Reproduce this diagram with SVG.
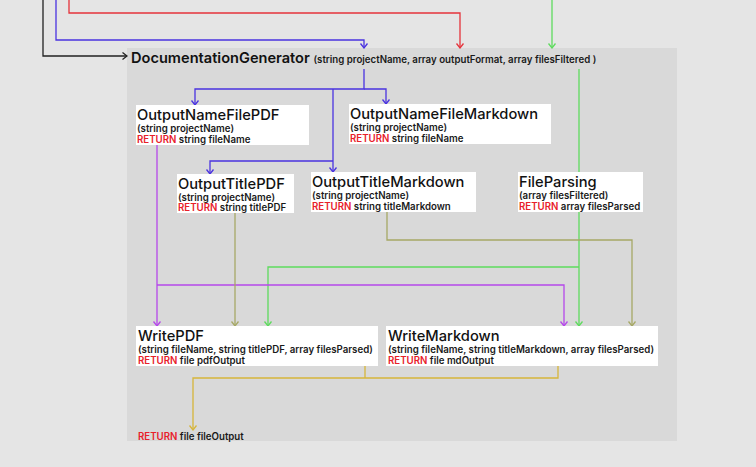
<svg xmlns="http://www.w3.org/2000/svg" width="756" height="467" viewBox="0 0 756 467">
<style>
.t{font-family:Inter,"Noto Sans","Liberation Sans",sans-serif;font-size:14.7px;font-weight:500;fill:#111}
.s{font-family:Inter,"Noto Sans","Liberation Sans",sans-serif;font-size:9.7px;font-weight:600;fill:#1a1a1a}
.r{fill:#e8202a}
.box{fill:#ffffff}
.c{fill:none;stroke-width:1.3}
.k{stroke:#222}
.b{stroke:#4a33e0}
.rd{stroke:#e5333b}
.g{stroke:#5edb5e}
.p{stroke:#b548ea}
.o{stroke:#a6a866}
.y{stroke:#d6b53a}
</style>
<defs>
<marker id="mk" viewBox="0 0 6 8" refX="5.5" refY="4" markerWidth="6" markerHeight="8" markerUnits="userSpaceOnUse" orient="auto"><path d="M1,0.5 L5.5,4 L1,7.5" fill="none" stroke="#222" stroke-width="1.3"/></marker>
<marker id="mb" viewBox="0 0 6 8" refX="5.5" refY="4" markerWidth="6" markerHeight="8" markerUnits="userSpaceOnUse" orient="auto"><path d="M1,0.5 L5.5,4 L1,7.5" fill="none" stroke="#4a33e0" stroke-width="1.3"/></marker>
<marker id="mr" viewBox="0 0 6 8" refX="5.5" refY="4" markerWidth="6" markerHeight="8" markerUnits="userSpaceOnUse" orient="auto"><path d="M1,0.5 L5.5,4 L1,7.5" fill="none" stroke="#e5333b" stroke-width="1.3"/></marker>
<marker id="mg" viewBox="0 0 6 8" refX="5.5" refY="4" markerWidth="6" markerHeight="8" markerUnits="userSpaceOnUse" orient="auto"><path d="M1,0.5 L5.5,4 L1,7.5" fill="none" stroke="#5edb5e" stroke-width="1.3"/></marker>
<marker id="mp" viewBox="0 0 6 8" refX="5.5" refY="4" markerWidth="6" markerHeight="8" markerUnits="userSpaceOnUse" orient="auto"><path d="M1,0.5 L5.5,4 L1,7.5" fill="none" stroke="#b548ea" stroke-width="1.3"/></marker>
<marker id="mo" viewBox="0 0 6 8" refX="5.5" refY="4" markerWidth="6" markerHeight="8" markerUnits="userSpaceOnUse" orient="auto"><path d="M1,0.5 L5.5,4 L1,7.5" fill="none" stroke="#a6a866" stroke-width="1.3"/></marker>
<marker id="my" viewBox="0 0 6 8" refX="5.5" refY="4" markerWidth="6" markerHeight="8" markerUnits="userSpaceOnUse" orient="auto"><path d="M1,0.5 L5.5,4 L1,7.5" fill="none" stroke="#d6b53a" stroke-width="1.3"/></marker>
</defs>
<rect width="756" height="467" fill="#e5e5e5"/>
<rect id="panel" x="127" y="48" width="550" height="393" fill="#d9d9d9"/>

<g id="connectors">
<path class="c k" d="M43,0 V56 H127" marker-end="url(#mk)"/>
<path class="c b" d="M56,0 V40 H364 V48" marker-end="url(#mb)"/>
<path class="c rd" d="M69,0 V13 H460 V48" marker-end="url(#mr)"/>
<path class="c g" d="M552,0 V48" marker-end="url(#mg)"/>
<path class="c b" d="M364,69 V89 H195 V105" marker-end="url(#mb)"/>
<path class="c b" d="M364,89 H386 V104" marker-end="url(#mb)"/>
<path class="c b" d="M333,89 V172" marker-end="url(#mb)"/>
<path class="c b" d="M333,161 H210 V174" marker-end="url(#mb)"/>
<path class="c g" d="M579,69 V172"/>
<path class="c g" d="M579,212 V326" marker-end="url(#mg)"/>
<path class="c g" d="M579,267 H268 V326" marker-end="url(#mg)"/>
<path class="c p" d="M157,145 V326" marker-end="url(#mp)"/>
<path class="c p" d="M157,285 H564 V326" marker-end="url(#mp)"/>
<path class="c o" d="M235,213 V326" marker-end="url(#mo)"/>
<path class="c o" d="M387,212 V240 H632 V326" marker-end="url(#mo)"/>
<path class="c y" d="M365,366 V378"/>
<path class="c y" d="M558,366 V378 H193 V430" marker-end="url(#my)"/>
</g>

<g id="DocumentationGenerator">
<text x="131" y="63" class="t" style="font-size:14.6px;font-weight:600">DocumentationGenerator <tspan class="s">(string projectName, array outputFormat, array filesFiltered )</tspan></text>
</g>

<g id="OutputNameFilePDF">
<rect class="box" x="136" y="105" width="173" height="40"/>
<text x="137" y="120" class="t">OutputNameFilePDF</text>
<text x="137" y="131.5" class="s">(string projectName)</text>
<text x="137" y="142.5" class="s"><tspan class="r">RETURN</tspan> string fileName</text>
</g>

<g id="OutputNameFileMarkdown">
<rect class="box" x="349" y="104" width="202" height="40"/>
<text x="350" y="119" class="t">OutputNameFileMarkdown</text>
<text x="350" y="130.5" class="s">(string projectName)</text>
<text x="350" y="141.5" class="s"><tspan class="r">RETURN</tspan> string fileName</text>
</g>

<g id="OutputTitlePDF">
<rect class="box" x="177" y="174" width="117" height="39"/>
<text x="178" y="189" class="t">OutputTitlePDF</text>
<text x="178" y="200.5" class="s">(string projectName)</text>
<text x="178" y="211" class="s"><tspan class="r">RETURN</tspan> string titlePDF</text>
</g>

<g id="OutputTitleMarkdown">
<rect class="box" x="311" y="172" width="165" height="40"/>
<text x="312" y="187" class="t">OutputTitleMarkdown</text>
<text x="312" y="198.5" class="s">(string projectName)</text>
<text x="312" y="209.5" class="s"><tspan class="r">RETURN</tspan> string titleMarkdown</text>
</g>

<g id="FileParsing">
<rect class="box" x="518" y="172" width="125" height="40"/>
<text x="519" y="187" class="t">FileParsing</text>
<text x="519" y="198.5" class="s">(array filesFiltered)</text>
<text x="519" y="209.5" class="s"><tspan class="r">RETURN</tspan> array filesParsed</text>
</g>

<g id="WritePDF">
<rect class="box" x="136" y="326" width="242" height="40"/>
<text x="138" y="341" class="t">WritePDF</text>
<text x="138" y="352.5" class="s">(string fileName, string titlePDF, array filesParsed)</text>
<text x="138" y="363.5" class="s"><tspan class="r">RETURN</tspan> file pdfOutput</text>
</g>

<g id="WriteMarkdown">
<rect class="box" x="386" y="326" width="272" height="40"/>
<text x="388" y="341" class="t">WriteMarkdown</text>
<text x="388" y="352.5" class="s">(string fileName, string titleMarkdown, array filesParsed)</text>
<text x="388" y="363.5" class="s"><tspan class="r">RETURN</tspan> file mdOutput</text>
</g>

<g id="output">
<text x="138" y="440" class="s"><tspan class="r">RETURN</tspan> file fileOutput</text>
</g>
</svg>
